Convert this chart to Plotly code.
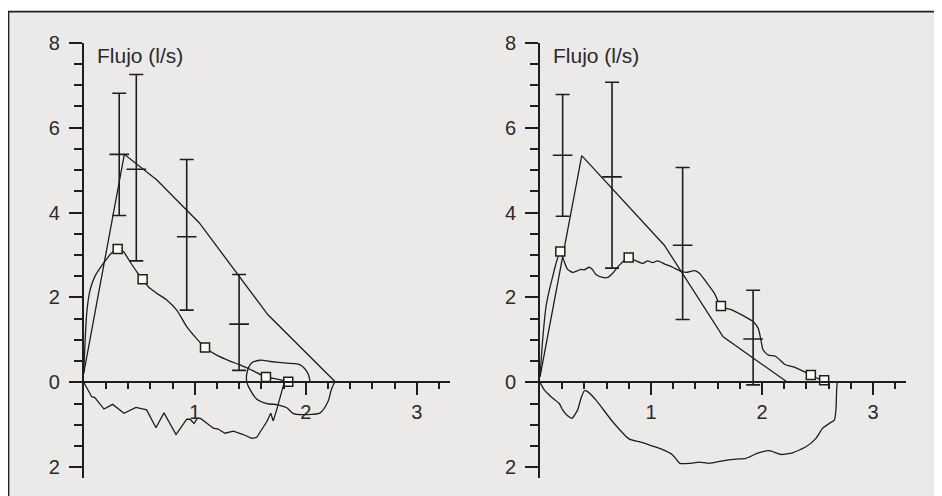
import plotly.graph_objects as go

# ---------------- data (volume in l, flow in l/s) ----------------
# Left panel
L_pred_x = [0.0, 0.366, 0.657, 1.04, 1.66, 2.27]
L_pred_y = [0.21, 5.37, 4.77, 3.76, 1.59, 0.0]

L_exp_x = [0.0, 0.027, 0.057, 0.10, 0.177, 0.25, 0.306, 0.357, 0.417, 0.477, 0.531, 0.582,
           0.657, 0.748, 0.838, 0.928, 1.003, 1.093, 1.198, 1.318, 1.408, 1.528, 1.642, 1.753, 1.843]
L_exp_y = [0.21, 1.62, 2.17, 2.49, 2.80, 3.04, 3.14, 3.08, 2.84, 2.61, 2.43, 2.25,
           2.10, 1.94, 1.70, 1.31, 1.07, 0.82, 0.64, 0.50, 0.41, 0.27, 0.125, 0.07, 0.015]

L_mark_x = [0.306, 0.531, 1.093, 1.642, 1.843]
L_mark_y = [3.14, 2.43, 0.82, 0.125, 0.015]

L_insp_x = [0.0, 0.072, 0.10, 0.183, 0.261, 0.363, 0.471, 0.567, 0.651, 0.723, 0.832, 0.928,
            0.958, 0.994, 1.023, 1.053, 1.168, 1.21, 1.273, 1.348, 1.438, 1.513, 1.558, 1.604,
            1.649, 1.685, 1.708, 1.738, 1.768, 1.805, 1.843]
L_insp_y = [0.0, -0.34, -0.36, -0.63, -0.52, -0.73, -0.59, -0.65, -1.07, -0.72, -1.23, -0.87,
            -0.87, -0.97, -0.85, -0.85, -1.08, -1.10, -1.20, -1.15, -1.23, -1.32, -1.30, -1.12,
            -0.93, -0.73, -0.91, -0.65, -0.38, -0.02, 0.015]

L_loop_x = [2.04, 2.02, 1.95, 1.83, 1.68, 1.59, 1.51, 1.47, 1.47, 1.50, 1.56, 1.65, 1.75,
            1.83, 1.89, 2.00, 2.13, 2.20, 2.23, 2.26]
L_loop_y = [0.0, 0.21, 0.41, 0.45, 0.49, 0.52, 0.45, 0.21, 0.0, -0.18, -0.40, -0.50, -0.53,
            -0.60, -0.74, -0.76, -0.72, -0.46, -0.18, 0.0]

L_err_x = [0.32, 0.474, 0.928, 1.40]
L_err_mid = [5.37, 5.02, 3.43, 1.37]
L_err_top = [6.81, 7.25, 5.25, 2.54]
L_err_bot = [3.93, 2.86, 1.70, 0.28]

# Right panel
R_pred_x = [0.0, 0.376, 1.12, 1.65, 2.23]
R_pred_y = [0.13, 5.34, 3.23, 1.07, 0.0]

R_exp_x = [0.0, 0.024, 0.054, 0.084, 0.114, 0.144, 0.183, 0.219, 0.249, 0.294, 0.339, 0.369,
           0.399, 0.444, 0.474, 0.504, 0.565, 0.61, 0.655, 0.715, 0.799, 0.865, 0.925, 0.97,
           1.015, 1.06, 1.12, 1.195, 1.255, 1.315, 1.39, 1.436, 1.495, 1.57, 1.63, 1.741,
           1.83, 1.92, 1.966, 1.99, 2.01, 2.057, 2.117, 2.16, 2.207, 2.297, 2.44, 2.51, 2.56]
R_exp_y = [0.13, 1.0, 1.78, 2.17, 2.49, 2.80, 3.08, 2.84, 2.66, 2.59, 2.63, 2.66,
           2.65, 2.71, 2.65, 2.54, 2.47, 2.47, 2.57, 2.76, 2.94, 2.86, 2.80, 2.86,
           2.82, 2.86, 2.79, 2.71, 2.63, 2.59, 2.63, 2.57, 2.37, 2.10, 1.80, 1.69,
           1.57, 1.43, 1.27, 1.0, 0.76, 0.64, 0.62, 0.53, 0.42, 0.35, 0.17, 0.08, 0.05]

R_mark_x = [0.183, 0.799, 1.63, 2.44, 2.56]
R_mark_y = [3.08, 2.94, 1.80, 0.17, 0.05]

R_insp_x = [0.0, 0.039, 0.099, 0.174, 0.204, 0.249, 0.288, 0.339, 0.369, 0.399, 0.429, 0.505,
            0.655, 0.805, 0.895, 1.0, 1.09, 1.195, 1.26, 1.345, 1.435, 1.525, 1.646, 1.766,
            1.856, 1.961, 2.066, 2.171, 2.277, 2.396, 2.486, 2.547, 2.606, 2.652, 2.667,
            2.673, 2.68]
R_insp_y = [0.0, -0.18, -0.34, -0.50, -0.65, -0.79, -0.85, -0.65, -0.38, -0.20, -0.22, -0.42,
            -0.93, -1.34, -1.40, -1.49, -1.57, -1.71, -1.91, -1.91, -1.88, -1.91, -1.85, -1.81,
            -1.79, -1.67, -1.61, -1.70, -1.66, -1.52, -1.32, -1.08, -0.97, -0.89, -0.61,
            -0.14, 0.03]

R_err_x = [0.204, 0.649, 1.285, 1.92]
R_err_mid = [5.35, 4.84, 3.23, 1.02]
R_err_top = [6.78, 7.07, 5.06, 2.17]
R_err_bot = [3.91, 2.69, 1.48, -0.06]

Y_TICKVALS = [-2, 0, 2, 4, 6, 8]
Y_TICKTEXT = ["2", "0", "2", "4", "6", "8"]
Y_MINOR = [-2, -1.5, -1, -0.5, 0, 0.5, 1, 1.5, 2, 2.5, 3, 3.5, 4, 4.5, 5, 5.5, 6, 6.5, 7, 7.5, 8]
X_TICKVALS = [1, 2, 3]
X_TICKTEXT = ["1", "2", "3"]
X_MINOR = [0.2, 0.4, 0.6, 0.8, 1.0, 1.2, 1.4, 1.6, 1.8, 2.0, 2.2, 2.4, 2.6, 2.8, 3.0, 3.2]
TITLE = "Flujo (l/s)"

# ---------------- figure ----------------
# the page body has an 8px margin; the figure fills the rest of the 942x496 window
BODY = 8
W, H = 942 - BODY, 496 - BODY
INK = "#1e1e1e"
TXT = "#2a2a2a"
BG = "#ebeae8"
FONT = "Liberation Sans"


def px_x(p):  # window pixel -> paper x
    return (p - BODY) / W


def px_y(p):  # window pixel -> paper y
    return 1 - (p - BODY) / H


fig = go.Figure()


def add_panel(xa, ya, pred_x, pred_y, exp_x, exp_y, mark_x, mark_y, insp_x, insp_y,
              ex, emid, etop, ebot, insp_smooth, extra=None):
    ln = dict(color=INK, width=1.3)
    fig.add_trace(go.Scatter(x=pred_x, y=pred_y, mode="lines", line=ln, xaxis=xa, yaxis=ya,
                             showlegend=False, hoverinfo="skip"))
    fig.add_trace(go.Scatter(x=exp_x, y=exp_y, mode="lines",
                             line=dict(color=INK, width=1.3, shape="spline", smoothing=0.6),
                             xaxis=xa, yaxis=ya, showlegend=False, hoverinfo="skip"))
    if insp_smooth:
        iln = dict(color=INK, width=1.3, shape="spline", smoothing=0.5)
    else:
        iln = ln
    fig.add_trace(go.Scatter(x=insp_x, y=insp_y, mode="lines", line=iln, xaxis=xa, yaxis=ya,
                             showlegend=False, hoverinfo="skip"))
    if extra is not None:
        fig.add_trace(go.Scatter(x=extra[0], y=extra[1], mode="lines",
                                 line=dict(color=INK, width=1.3, shape="spline", smoothing=0.8),
                                 xaxis=xa, yaxis=ya, showlegend=False, hoverinfo="skip"))
    fig.add_trace(go.Scatter(
        x=ex, y=emid, mode="markers", xaxis=xa, yaxis=ya, showlegend=False, hoverinfo="skip",
        marker=dict(symbol="line-ew", size=14, line=dict(color=INK, width=1.6)),
        error_y=dict(type="data", symmetric=False,
                     array=[t - m for t, m in zip(etop, emid)],
                     arrayminus=[m - b for m, b in zip(emid, ebot)],
                     width=7, thickness=1.6, color=INK)))
    fig.add_trace(go.Scatter(
        x=mark_x, y=mark_y, mode="markers", xaxis=xa, yaxis=ya, showlegend=False,
        hoverinfo="skip", cliponaxis=False,
        marker=dict(symbol="square", size=9, color="#fffff4", line=dict(color=INK, width=1.5))))


add_panel("x", "y", L_pred_x, L_pred_y, L_exp_x, L_exp_y, L_mark_x, L_mark_y,
          L_insp_x, L_insp_y, L_err_x, L_err_mid, L_err_top, L_err_bot, False,
          extra=(L_loop_x, L_loop_y))
add_panel("x2", "y2", R_pred_x, R_pred_y, R_exp_x, R_exp_y, R_mark_x, R_mark_y,
          R_insp_x, R_insp_y, R_err_x, R_err_mid, R_err_top, R_err_bot, True)

# geometry in window pixels
X0_L, X0_R, PX_PER_X = 83.7, 540.0, 111.0
Y_ZERO_PX, PX_PER_Y = 382.3, 42.45
YMIN, YMAX, XMAX = -2.25, 8.0, 3.3

tickfont = dict(family=FONT, size=20, color=TXT)


def xaxis_cfg(x0px):
    return dict(domain=[px_x(x0px), px_x(x0px + XMAX * PX_PER_X)], range=[0, XMAX],
                anchor="free", position=px_y(Y_ZERO_PX), side="bottom", automargin=False,
                showline=True, linecolor=INK, linewidth=1.7, showgrid=False, zeroline=False,
                tickmode="array", tickvals=X_TICKVALS, ticktext=X_TICKTEXT,
                ticks="outside", ticklen=12, tickwidth=1.5, tickcolor=INK,
                tickfont=tickfont, ticklabelstandoff=0,
                minor=dict(tickmode="array", tickvals=X_MINOR, ticks="outside", ticklen=6,
                           tickwidth=1.5, tickcolor=INK, showgrid=False),
                fixedrange=True)


def yaxis_cfg(anchor):
    return dict(domain=[px_y(Y_ZERO_PX - YMIN * PX_PER_Y), px_y(Y_ZERO_PX - YMAX * PX_PER_Y)],
                range=[YMIN, YMAX], anchor=anchor, automargin=False,
                showline=True, linecolor=INK, linewidth=1.7, showgrid=False, zeroline=False,
                tickmode="array", tickvals=Y_TICKVALS, ticktext=Y_TICKTEXT,
                ticks="outside", ticklen=13, tickwidth=1.5, tickcolor=INK,
                tickfont=tickfont, ticklabelstandoff=5,
                minor=dict(tickmode="array", tickvals=Y_MINOR, ticks="outside", ticklen=8,
                           tickwidth=1.5, tickcolor=INK, showgrid=False),
                fixedrange=True)


fig.update_layout(
    width=W, height=H, margin=dict(l=0, r=0, t=0, b=0, pad=0, autoexpand=False),
    paper_bgcolor="white", plot_bgcolor="rgba(0,0,0,0)",
    xaxis=xaxis_cfg(X0_L), yaxis=yaxis_cfg("x"),
    xaxis2=xaxis_cfg(X0_R), yaxis2=yaxis_cfg("x2"),
    showlegend=False,
    shapes=[dict(type="rect", xref="paper", yref="paper", layer="below",
                 x0=px_x(8.5), x1=1.05, y0=-0.05, y1=px_y(11.7),
                 fillcolor=BG, line=dict(color=INK, width=1.7))],
    annotations=[
        dict(text=TITLE, xref="paper", yref="paper", x=px_x(95), y=px_y(55.5),
             xanchor="left", yanchor="middle", showarrow=False,
             font=dict(family=FONT, size=21, color=TXT)),
        dict(text=TITLE, xref="paper", yref="paper", x=px_x(550.5), y=px_y(55.5),
             xanchor="left", yanchor="middle", showarrow=False,
             font=dict(family=FONT, size=21, color=TXT)),
    ],
)

fig.write_html("out.html")
